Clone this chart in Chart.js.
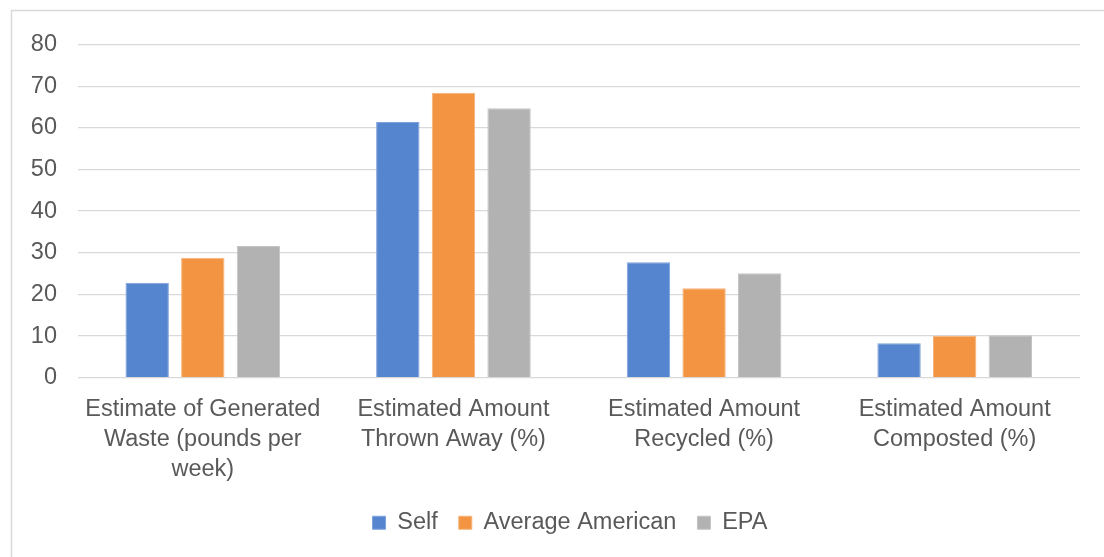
<!DOCTYPE html>
<html>
<head>
<meta charset="utf-8">
<script src="https://cdn.jsdelivr.net/npm/chart.js@4/dist/chart.umd.min.js"></script>
<style>
  html, body { margin: 0; padding: 0; background: #ffffff; }
  #wrap { position: relative; width: 1104px; height: 557px; }
</style>
</head>
<body>
<div id="wrap"><canvas id="chart" width="1104" height="557"></canvas></div>
<script>
// Category labels (each entry is split into the lines shown under the axis)
const categories = [
  ["Estimate of Generated", "Waste (pounds per", "week)"],
  ["Estimated Amount", "Thrown Away (%)"],
  ["Estimated Amount", "Recycled (%)"],
  ["Estimated Amount", "Composted (%)"]
];

// Series values
const selfValues     = [22.8, 61.4, 27.7, 8.3];
const averageValues  = [28.8, 68.4, 21.5, 10.1];
const epaValues      = [31.6, 64.7, 25.1, 10.2];

const seriesNames = ["Self", "Average American", "EPA"];

// Y axis ticks
const yTicks = [0, 10, 20, 30, 40, 50, 60, 70, 80];

const FONT = { family: "'Liberation Sans', Arial, sans-serif", size: 23.5 };
const TEXT = "#595959";
const GRID = "#d9d9d9";

// Thin frame around the whole chart
const framePlugin = {
  id: "frame",
  beforeDraw(chart) {
    const ctx = chart.ctx;
    ctx.save();
    ctx.fillStyle = "#ffffff";
    ctx.fillRect(0, 0, chart.width, chart.height);
    ctx.strokeStyle = GRID;
    ctx.lineWidth = 1.5;
    ctx.strokeRect(11.5, 10.5, chart.width + 20, chart.height + 20);
    ctx.restore();
  }
};

// Center the legend row a little right of the canvas middle
const legendShiftPlugin = {
  id: "legendShift",
  afterLayout(chart) {
    const lg = chart.legend;
    if (!lg) return;
    const left = 60;
    lg.width = lg.right - left;
    lg.left = left;
  }
};

new Chart(document.getElementById("chart"), {
  type: "bar",
  data: {
    labels: categories,
    datasets: [
      { label: seriesNames[0], data: selfValues,    backgroundColor: "#5585cf", borderColor: "#7fa3dc", borderWidth: 1 },
      { label: seriesNames[1], data: averageValues, backgroundColor: "#f29441", borderColor: "#f6b47a", borderWidth: 1 },
      { label: seriesNames[2], data: epaValues,     backgroundColor: "#b2b2b2", borderColor: "#c4c4c4", borderWidth: 1 }
    ]
  },
  options: {
    responsive: false,
    animation: false,
    devicePixelRatio: 1,
    layout: { padding: { top: 44.5, left: 0, right: 24, bottom: 12.5 } },
    datasets: {
      bar: { categoryPercentage: 0.666, barPercentage: 0.78 }
    },
    scales: {
      x: {
        grid: { display: false, drawTicks: false },
        border: { display: false },
        ticks: { color: TEXT, font: { ...FONT, lineHeight: 1.28 }, padding: 17, maxRotation: 0, autoSkip: false },
        afterFit(scale) { scale.height = 112.3; }
      },
      y: {
        min: 0,
        max: yTicks[yTicks.length - 1],
        afterBuildTicks(scale) { scale.ticks = yTicks.map(v => ({ value: v })); },
        grid: { color: GRID, lineWidth: 1.3, drawTicks: false },
        border: { display: false },
        ticks: { color: TEXT, font: FONT, padding: 20.5 },
        afterFit(scale) { scale.width = 77.5; }
      }
    },
    plugins: {
      legend: {
        position: "bottom",
        labels: {
          color: TEXT,
          font: FONT,
          boxWidth: 13,
          boxHeight: 13,
          padding: 21
        }
      },
      tooltip: { enabled: false }
    }
  },
  plugins: [framePlugin, legendShiftPlugin]
});
</script>
</body>
</html>
